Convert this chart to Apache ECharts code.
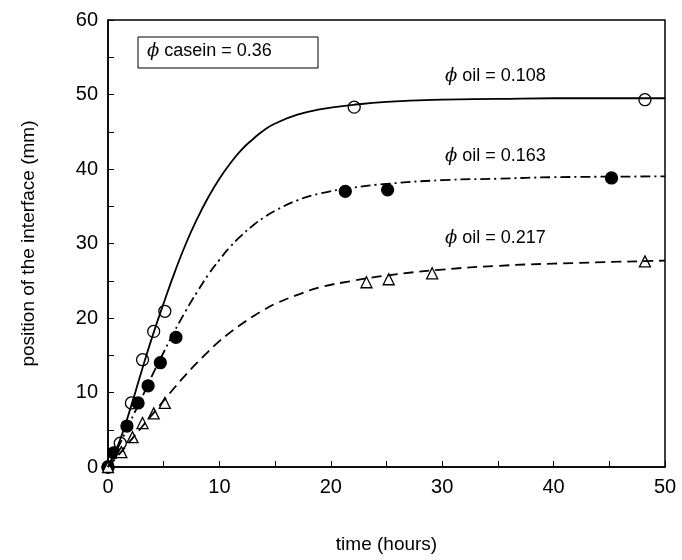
<!DOCTYPE html>
<html><head><meta charset="utf-8">
<script src="https://cdn.jsdelivr.net/npm/echarts@6/dist/echarts.min.js"></script>
<style>html,body{margin:0;padding:0;background:#fff}#c{width:682px;height:560px}</style>
</head><body><div id="c"></div>
<script>
// measured points
var open108 = [[0,0],[1.1,3.2],[2.1,8.6],[3.1,14.4],[4.1,18.2],[5.1,20.9],[22.1,48.3],[48.2,49.3]];
var fill163 = [[0,0],[0.5,1.9],[1.7,5.5],[2.7,8.6],[3.6,10.9],[4.7,14.0],[6.1,17.4],[21.3,37.0],[25.1,37.2],[45.2,38.8]];
var tri217 = [[0,0],[1.2,2.0],[2.2,4.0],[3.1,5.9],[4.1,7.2],[5.1,8.6],[23.2,24.8],[25.2,25.2],[29.1,26.0],[48.2,27.6]];
// fitted curves
var curve108 = [[0,0],[1,3.3],[2,7.8],[3,12.8],[4,17.6],[5,22],[6,26.2],[7,30],[8,33.3],[9,36.2],[10,38.7],[11,40.8],[12,42.6],[13,44],[14,45.2],[15,46.1],[17,47.3],[19,48],[22,48.6],[25,49],[30,49.3],[35,49.4],[40,49.5],[50,49.5]];
var curve163 = [[0,0],[1,2.9],[2,6.1],[3,9.2],[4,12.4],[5,15.4],[6,18.3],[7,21],[8,23.5],[9,25.8],[10,27.8],[11,29.6],[12,31.1],[13,32.4],[14,33.5],[15,34.4],[17,35.8],[19,36.7],[22,37.5],[25,38],[30,38.5],[35,38.7],[40,38.9],[50,39]];
var curve217 = [[0,0],[1,1.7],[2,3.5],[3,5.3],[4,7.1],[5,8.9],[6,10.7],[7,12.4],[8,14],[9,15.5],[10,16.9],[11,18.1],[12,19.2],[13,20.2],[14,21.1],[15,21.9],[17,23.1],[19,24.1],[22,25],[25,25.7],[30,26.5],[35,27],[40,27.3],[50,27.7]];

var chart = echarts.init(document.getElementById('c'));
var ax = {
  axisLine: {lineStyle: {color: '#000', width: 1.5}},
  axisTick: {inside: true, length: 6, lineStyle: {color: '#000'}},
  minorTick: {show: true, splitNumber: 2, length: 6, lineStyle: {color: '#000'}},
  splitLine: {show: false},
  axisLabel: {color: '#000', fontSize: 20, fontFamily: 'Liberation Sans', margin: 10},
  nameTextStyle: {color: '#000', fontSize: 19, fontFamily: 'Liberation Sans'}
};
function curve(d, type) {
  return {type: 'line', data: d, smooth: true, symbol: 'none', silent: true,
    lineStyle: {color: '#000', width: 1.8, type: type}};
}
function pts(d, sym, filled) {
  return {type: 'scatter', data: d, symbol: sym, symbolSize: sym === 'triangle' ? 11 : 12,
    itemStyle: {color: filled ? '#000' : '#fff', borderColor: '#000', borderWidth: 1.3, opacity: 1}};
}
var rich = {p: {fontStyle: 'italic', fontFamily: 'DejaVu Serif', fontSize: 18, fill: '#000'}};
function lab(x, y, t) {
  return {type: 'text', left: x, top: y, style: {text: '{p|ϕ} ' + t, rich: rich,
    font: '18px Liberation Sans', fill: '#000'}};
}
chart.setOption({
  animation: false,
  grid: {left: 108, right: 17, top: 20, bottom: 93, show: true, borderColor: '#000', borderWidth: 1.5},
  xAxis: Object.assign({type: 'value', min: 0, max: 50, interval: 10, name: 'time (hours)',
    nameLocation: 'middle', nameGap: 68}, ax),
  yAxis: Object.assign({type: 'value', min: 0, max: 60, interval: 10, name: 'position of the interface (mm)',
    nameLocation: 'middle', nameGap: 70}, ax),
  series: [
    curve(curve108, 'solid'),
    curve(curve163, [10, 4, 2, 4]),
    curve(curve217, [10, 6]),
    pts(open108, 'circle', false),
    pts(fill163, 'circle', true),
    pts(tri217, 'triangle', false)
  ],
  graphic: [
    {type: 'rect', shape: {x: 138, y: 37, width: 180, height: 31}, style: {fill: '#fff', stroke: '#000', lineWidth: 1}},
    lab(147, 42, 'casein = 0.36'),
    lab(445, 67, 'oil = 0.108'),
    lab(445, 147, 'oil = 0.163'),
    lab(445, 229, 'oil = 0.217')
  ]
});
</script></body></html>
